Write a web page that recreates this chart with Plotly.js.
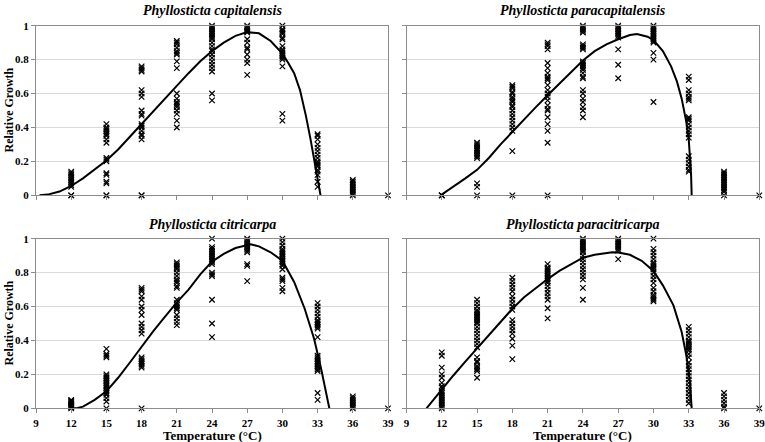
<!DOCTYPE html>
<html>
<head>
<meta charset="utf-8">
<script src="https://cdn.plot.ly/plotly-3.0.1.min.js"></script>
<style>html,body{margin:0;padding:0;background:#fff;}#chart{width:765px;height:442px;}</style>
</head>
<body>
<div id="chart"></div>
<script>
// ---------- DATA ----------
const temperatures = [12, 15, 18, 21, 24, 27, 30, 33, 36, 39];
const tickValues = [9, 12, 15, 18, 21, 24, 27, 30, 33, 36, 39];
const tickLabels = ["9", "12", "15", "18", "21", "24", "27", "30", "33", "36", "39"];
const yTickValues = [0, 0.2, 0.4, 0.6, 0.8, 1];
const yTickLabels = ["0", "0.2", "0.4", "0.6", "0.8", "1"];

const speciesNames = ["Phyllosticta capitalensis", "Phyllosticta paracapitalensis",
                      "Phyllosticta citricarpa", "Phyllosticta paracitricarpa"];

// observed relative growth, one list per temperature (same order as `temperatures`)
const capitalensisGrowth = [
  [0.14, 0.13, 0.12, 0.11, 0.10, 0.09, 0.08, 0.07, 0.06, 0.05, 0, 0],
  [0.42, 0.40, 0.39, 0.38, 0.37, 0.36, 0.35, 0.33, 0.31, 0.22, 0.21, 0.20, 0.13, 0.12, 0.08, 0.07, 0, 0],
  [0.76, 0.75, 0.74, 0.73, 0.62, 0.60, 0.58, 0.50, 0.48, 0.47, 0.42, 0.41, 0.40, 0.38, 0.36, 0.35, 0.33, 0, 0],
  [0.91, 0.90, 0.89, 0.87, 0.85, 0.84, 0.83, 0.79, 0.75, 0.60, 0.57, 0.55, 0.54, 0.53, 0.52, 0.50, 0.48, 0.44, 0.40],
  [1.00, 0.99, 0.98, 0.97, 0.96, 0.95, 0.94, 0.93, 0.92, 0.90, 0.88, 0.86, 0.85, 0.83, 0.81, 0.79, 0.77, 0.75, 0.73, 0.60, 0.56],
  [1.00, 0.99, 0.98, 0.97, 0.965, 0.96, 0.92, 0.90, 0.87, 0.86, 0.83, 0.80, 0.78, 0.71],
  [1.00, 0.98, 0.97, 0.96, 0.95, 0.93, 0.92, 0.88, 0.86, 0.85, 0.84, 0.83, 0.82, 0.81, 0.80, 0.76, 0.48, 0.44],
  [0.36, 0.35, 0.33, 0.30, 0.28, 0.26, 0.24, 0.22, 0.20, 0.19, 0.18, 0.17, 0.15, 0.14, 0.12, 0.08, 0.05],
  [0.09, 0.08, 0.07, 0.06, 0.05, 0.04, 0.03, 0.02, 0.01, 0],
  [0]
];
const paracapitalensisGrowth = [
  [0, 0, 0],
  [0.31, 0.30, 0.29, 0.28, 0.27, 0.26, 0.25, 0.24, 0.23, 0.22, 0.07, 0.05, 0],
  [0.65, 0.64, 0.63, 0.61, 0.60, 0.58, 0.57, 0.56, 0.55, 0.53, 0.52, 0.50, 0.48, 0.46, 0.44, 0.42, 0.40, 0.38, 0.26, 0],
  [0.90, 0.89, 0.88, 0.86, 0.78, 0.75, 0.72, 0.70, 0.69, 0.68, 0.65, 0.62, 0.60, 0.58, 0.56, 0.53, 0.51, 0.50, 0.46, 0.42, 0.38, 0.31, 0],
  [1.00, 0.99, 0.98, 0.97, 0.96, 0.89, 0.88, 0.87, 0.86, 0.79, 0.78, 0.77, 0.76, 0.75, 0.74, 0.72, 0.70, 0.69, 0.62, 0.60, 0.57, 0.55, 0.52, 0.50, 0.46],
  [1.00, 0.99, 0.98, 0.97, 0.96, 0.95, 0.94, 0.93, 0.86, 0.77, 0.69],
  [1.00, 0.99, 0.98, 0.97, 0.96, 0.95, 0.94, 0.93, 0.92, 0.91, 0.90, 0.84, 0.80, 0.55],
  [0.70, 0.68, 0.62, 0.60, 0.58, 0.57, 0.56, 0.46, 0.45, 0.44, 0.42, 0.40, 0.38, 0.36, 0.34, 0.23, 0.21, 0.19, 0.17, 0.15, 0.14],
  [0.14, 0.13, 0.12, 0.11, 0.10, 0.09, 0.08, 0.07, 0.06, 0.05, 0.04, 0.03, 0.02, 0],
  [0]
];
const citricarpaGrowth = [
  [0.05, 0.045, 0.04, 0.035, 0.03, 0.025, 0.02, 0.015, 0.01, 0.005, 0],
  [0.35, 0.32, 0.31, 0.30, 0.20, 0.19, 0.18, 0.17, 0.16, 0.15, 0.14, 0.13, 0.12, 0.11, 0.10, 0.09, 0.08, 0.06, 0.04, 0],
  [0.71, 0.70, 0.69, 0.66, 0.64, 0.60, 0.58, 0.55, 0.50, 0.48, 0.46, 0.44, 0.30, 0.29, 0.28, 0.27, 0.26, 0.25, 0.24, 0],
  [0.86, 0.85, 0.84, 0.83, 0.82, 0.80, 0.78, 0.76, 0.75, 0.74, 0.72, 0.71, 0.64, 0.62, 0.61, 0.60, 0.59, 0.58, 0.55, 0.53, 0.51, 0.49],
  [1.00, 0.95, 0.94, 0.93, 0.92, 0.91, 0.90, 0.89, 0.88, 0.87, 0.86, 0.85, 0.80, 0.79, 0.78, 0.64, 0.50, 0.42],
  [1.00, 0.99, 0.98, 0.97, 0.96, 0.95, 0.94, 0.93, 0.92, 0.85, 0.84, 0.75],
  [1.00, 0.98, 0.96, 0.94, 0.93, 0.92, 0.91, 0.90, 0.89, 0.88, 0.87, 0.86, 0.85, 0.84, 0.82, 0.77, 0.76, 0.75, 0.71, 0.69],
  [0.62, 0.60, 0.58, 0.56, 0.54, 0.52, 0.51, 0.50, 0.49, 0.48, 0.47, 0.42, 0.31, 0.30, 0.29, 0.28, 0.27, 0.26, 0.25, 0.24, 0.23, 0.22, 0.09, 0.05],
  [0.07, 0.06, 0.05, 0.04, 0.03, 0.02, 0.01, 0],
  [0]
];
const paracitricarpaGrowth = [
  [0.33, 0.31, 0.24, 0.20, 0.18, 0.15, 0.13, 0.12, 0.10, 0.09, 0.08, 0.07, 0.06, 0.05, 0.04, 0.03, 0.02, 0.01, 0],
  [0.64, 0.62, 0.60, 0.58, 0.57, 0.56, 0.55, 0.54, 0.53, 0.52, 0.51, 0.50, 0.48, 0.46, 0.44, 0.42, 0.40, 0.38, 0.36, 0.30, 0.28, 0.27, 0.25, 0.24, 0.23, 0.22, 0.18],
  [0.77, 0.75, 0.73, 0.71, 0.69, 0.66, 0.64, 0.62, 0.60, 0.58, 0.52, 0.50, 0.48, 0.46, 0.44, 0.41, 0.37, 0.29],
  [0.85, 0.83, 0.82, 0.81, 0.80, 0.79, 0.78, 0.77, 0.76, 0.75, 0.74, 0.72, 0.70, 0.68, 0.66, 0.64, 0.59, 0.53],
  [1.00, 0.99, 0.98, 0.97, 0.96, 0.95, 0.94, 0.93, 0.92, 0.90, 0.88, 0.86, 0.84, 0.82, 0.80, 0.78, 0.76, 0.71, 0.64],
  [1.00, 0.99, 0.98, 0.97, 0.96, 0.95, 0.94, 0.93, 0.88],
  [1.00, 0.94, 0.92, 0.90, 0.88, 0.86, 0.85, 0.84, 0.83, 0.82, 0.80, 0.78, 0.76, 0.74, 0.71, 0.69, 0.67, 0.66, 0.65, 0.64, 0.63],
  [0.48, 0.46, 0.44, 0.42, 0.40, 0.39, 0.38, 0.37, 0.36, 0.35, 0.34, 0.32, 0.30, 0.27, 0.25, 0.23, 0.21, 0.19, 0.17, 0.15, 0.13, 0.11, 0.09, 0.07, 0.05, 0.03],
  [0.09, 0.07, 0.05, 0.03, 0.01, 0],
  [0]
];

// fitted curves
const capitalensisCurveT = [9.3, 10, 11, 12, 13, 14, 15, 16, 17, 18, 19, 20, 21, 22, 23, 24, 25, 26, 27, 28, 29, 30, 30.5, 31, 31.5, 32, 32.4, 32.8, 33.0, 33.25];
const capitalensisCurveV = [0, 0.004, 0.022, 0.055, 0.10, 0.15, 0.205, 0.27, 0.345, 0.42, 0.50, 0.575, 0.65, 0.72, 0.79, 0.85, 0.90, 0.94, 0.962, 0.955, 0.91, 0.835, 0.78, 0.72, 0.62, 0.47, 0.33, 0.18, 0.09, 0];
const paracapitalensisCurveT = [11.9, 13, 14, 15, 16, 17, 18, 19, 20, 21, 22, 23, 24, 25, 26, 27, 28, 28.6, 29.5, 30, 30.8, 31.5, 32, 32.4, 32.8, 33.0, 33.1, 33.2, 33.25];
const paracapitalensisCurveV = [0, 0.05, 0.10, 0.15, 0.22, 0.30, 0.375, 0.45, 0.52, 0.59, 0.66, 0.73, 0.795, 0.85, 0.89, 0.92, 0.945, 0.951, 0.935, 0.915, 0.85, 0.76, 0.67, 0.57, 0.43, 0.33, 0.25, 0.12, 0];
const citricarpaCurveT = [12, 12.5, 13, 14, 15, 16, 17, 18, 19, 20, 21, 22, 23, 24, 25, 26, 27, 27.3, 28, 29, 30, 31, 31.9, 32.7, 33.3, 34.0];
const citricarpaCurveV = [0, 0, 0.01, 0.05, 0.10, 0.18, 0.27, 0.363, 0.455, 0.54, 0.625, 0.70, 0.79, 0.865, 0.91, 0.945, 0.965, 0.967, 0.955, 0.92, 0.87, 0.745, 0.587, 0.41, 0.233, 0];
const paracitricarpaCurveT = [10.7, 12, 13, 14, 15, 16, 17, 18, 19, 20, 21, 22, 23, 24, 25, 26, 26.5, 27, 28, 29, 30, 30.8, 31.7, 32.4, 32.8, 33.1, 33.25];
const paracitricarpaCurveV = [0, 0.112, 0.195, 0.275, 0.352, 0.43, 0.51, 0.587, 0.655, 0.71, 0.762, 0.81, 0.85, 0.888, 0.905, 0.918, 0.92, 0.919, 0.905, 0.87, 0.81, 0.725, 0.607, 0.45, 0.31, 0.155, 0];

// ---------- PLOT ----------
const growthSets = [capitalensisGrowth, paracapitalensisGrowth, citricarpaGrowth, paracitricarpaGrowth];
const curveTs = [capitalensisCurveT, paracapitalensisCurveT, citricarpaCurveT, paracitricarpaCurveT];
const curveVs = [capitalensisCurveV, paracapitalensisCurveV, citricarpaCurveV, paracitricarpaCurveV];

const W = 765, H = 442;
const colX = [[36, 388], [406.5, 759.3]];
const rowY = [[25.7, 195.3], [238.7, 408.3]];
const serif = "Liberation Serif";

const traces = [];
const layout = {
  width: W, height: H,
  margin: {l: 0, r: 0, t: 0, b: 0},
  paper_bgcolor: "#ffffff", plot_bgcolor: "#ffffff",
  showlegend: false,
  font: {family: serif, color: "#000"},
  annotations: []
};

for (let i = 0; i < 4; i++) {
  const row = Math.floor(i / 2), col = i % 2;
  const n = i + 1;
  const xa = n === 1 ? "x" : "x" + n;
  const ya = n === 1 ? "y" : "y" + n;
  const xs = [], ys = [];
  growthSets[i].forEach((vals, k) => {
    vals.forEach(v => { xs.push(temperatures[k]); ys.push(v); });
  });
  traces.push({
    type: "scatter", mode: "markers", x: xs, y: ys, xaxis: xa, yaxis: ya,
    cliponaxis: false,
    marker: {symbol: "x-thin-open", size: 5.5, color: "#000", line: {color: "#000", width: 1.2}},
    hoverinfo: "skip"
  });
  traces.push({
    type: "scatter", mode: "lines", x: curveTs[i], y: curveVs[i], xaxis: xa, yaxis: ya,
    line: {color: "#000", width: 2, shape: "linear"},
    cliponaxis: false, hoverinfo: "skip"
  });

  const xd = [colX[col][0] / W, colX[col][1] / W];
  const yd = [1 - rowY[row][1] / H, 1 - rowY[row][0] / H];
  layout["xaxis" + (n === 1 ? "" : n)] = {
    domain: xd, anchor: ya, range: [9, 39], tickmode: "array",
    tickvals: tickValues, ticktext: tickLabels,
    showticklabels: row === 1, ticklabeloverflow: "allow",
    ticks: "outside", ticklen: 4, tickcolor: "#8c8c8c", tickwidth: 1,
    showline: true, linecolor: "#8c8c8c", linewidth: 1, mirror: true,
    showgrid: false, zeroline: false, automargin: false,
    tickfont: {family: serif, size: 11, color: "#000", weight: "bold"}
  };
  layout["yaxis" + (n === 1 ? "" : n)] = {
    domain: yd, anchor: xa, range: [0, 1], tickmode: "array",
    tickvals: yTickValues, ticktext: yTickLabels,
    showticklabels: col === 0, ticklabeloverflow: "allow",
    ticks: "outside", ticklen: 4, tickcolor: "#8c8c8c", tickwidth: 1,
    showline: true, linecolor: "#8c8c8c", linewidth: 1, mirror: true,
    showgrid: true, gridcolor: "#d9d9d9", gridwidth: 1,
    zeroline: false, automargin: false,
    tickfont: {family: serif, size: 11, color: "#000", weight: "bold"}
  };
  // panel title
  layout.annotations.push({
    xref: "paper", yref: "paper",
    x: (xd[0] + xd[1]) / 2, y: 1 - (row === 0 ? 10 : 224) / H,
    text: "<b><i>" + speciesNames[i] + "</i></b>", showarrow: false,
    xanchor: "center", yanchor: "middle",
    font: {family: serif, size: 14, color: "#000"}
  });
  if (col === 0) {
    layout.annotations.push({
      xref: "paper", yref: "paper", x: 8 / W, y: (yd[0] + yd[1]) / 2,
      text: "<b>Relative Growth</b>", showarrow: false, textangle: -90,
      xanchor: "center", yanchor: "middle",
      font: {family: serif, size: 12, color: "#000"}
    });
  }
  if (row === 1) {
    layout.annotations.push({
      xref: "paper", yref: "paper", x: (xd[0] + xd[1]) / 2, y: 1 - 435 / H,
      text: "<b>Temperature (°C)</b>", showarrow: false,
      xanchor: "center", yanchor: "middle",
      font: {family: serif, size: 13, color: "#000"}
    });
  }
}

Plotly.newPlot("chart", traces, layout, {staticPlot: true, displayModeBar: false});
</script>
</body>
</html>
